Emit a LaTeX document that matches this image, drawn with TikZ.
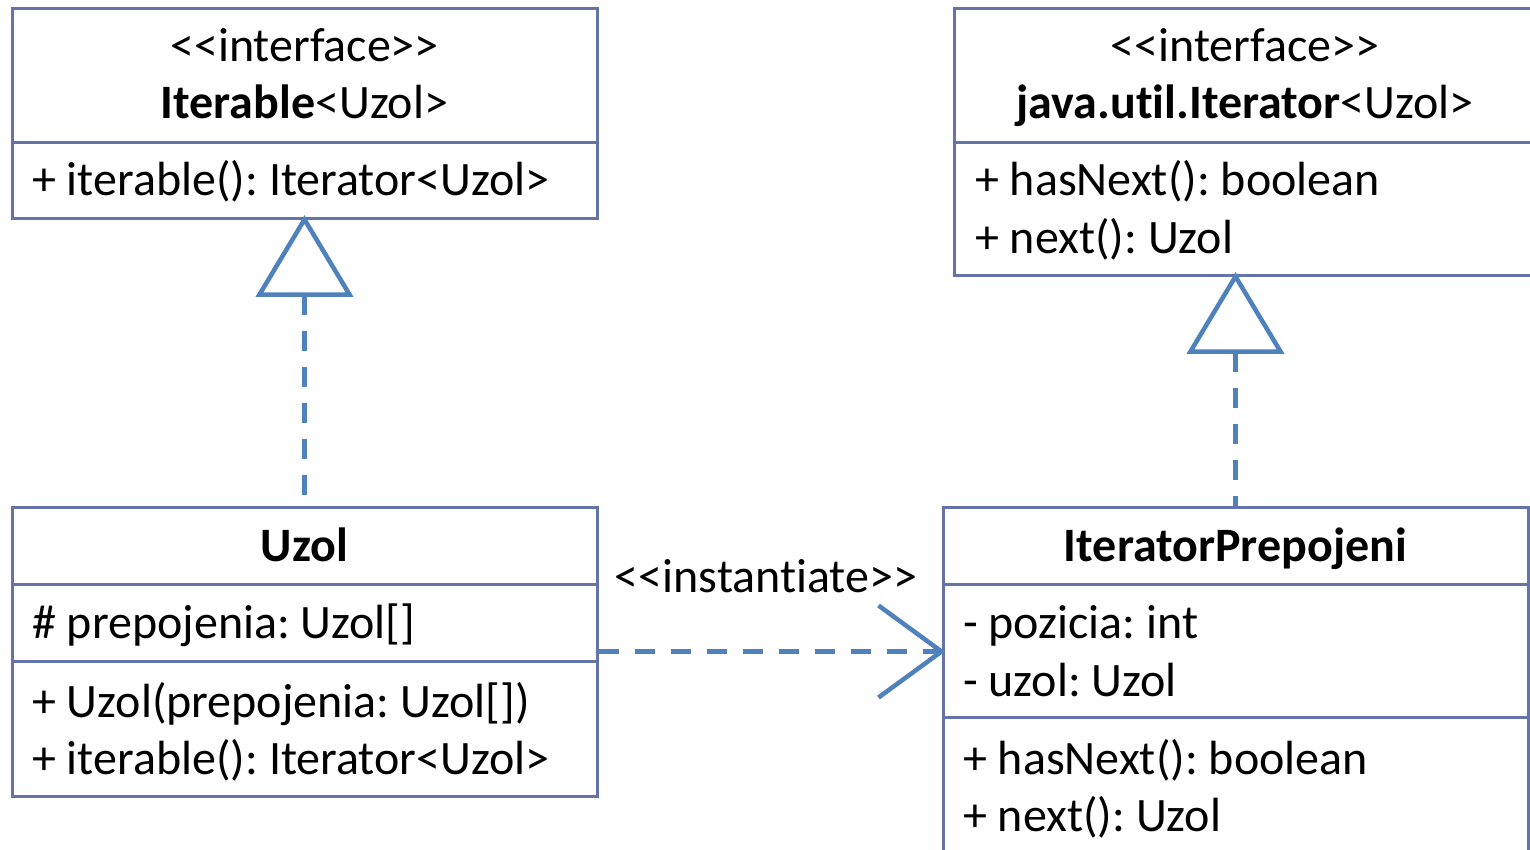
\documentclass[tikz,border=0pt]{standalone}
\usepackage{fontspec}
\setmainfont{Carlito}[Ligatures=NoCommon]
\usetikzlibrary{fit,calc}
\definecolor{boxline}{RGB}{100,116,168}
\definecolor{linkblue}{RGB}{79,129,189}
\frenchspacing
\begin{document}
\begin{tikzpicture}[x=1pt,y=-1pt,
  umlbox/.style={draw=boxline, line width=3pt, inner sep=0pt},
  divider/.style={draw=boxline, line width=3pt},
  txt/.style={inner sep=0pt, anchor=base west, font=\fontsize{48}{58}\selectfont},
  ctxt/.style={inner sep=0pt, anchor=base, font=\fontsize{48}{58}\selectfont},
  link/.style={draw=linkblue, line width=4.5pt},
  dashlink/.style={draw=linkblue, line width=5pt, dash pattern=on 20pt off 16pt},
  realize/.style={link, fill=white, line join=miter},
]
\clip (0,0) rectangle (1530,849);
\fill[white] (0,0) rectangle (1530,849);

% class boxes
\node[umlbox, fit={(12,8) (597,218)}]    (iterable) {};
\node[umlbox, fit={(954,8) (1536,275)}]  (iterator) {};
\node[umlbox, fit={(12,507) (597,796)}]  (uzol) {};
\node[umlbox, fit={(943,507) (1528,880)}] (iterprep) {};

% compartment separators
\draw[divider] (12,142) -- (597,142);
\draw[divider] (954,142) -- (1536,142);
\draw[divider] (12,584) -- (597,584);
\draw[divider] (12,661) -- (597,661);
\draw[divider] (943,584) -- (1528,584);
\draw[divider] (943,717) -- (1528,717);

% Iterable<Uzol>
\node[ctxt] (iterableStereo) at (304.5,61) {<{}<interface>{}>};
\node[ctxt] (iterableName) at (304.5,118) {\textbf{Iterable}<Uzol>};
\node[txt] (iterableOp) at (32,195) {+ iterable(): Iterator<Uzol>};

% java.util.Iterator<Uzol>
\node[ctxt] (iteratorStereo) at (1245,61) {<{}<interface>{}>};
\node[ctxt] (iteratorName) at (1245,118) {\textbf{java.util.Iterator}<Uzol>};
\node[txt] (iteratorOpA) at (975,195) {+ hasNext(): boolean};
\node[txt] (iteratorOpB) at (975,253) {+ next(): Uzol};

% Uzol
\node[ctxt] (uzolName) at (304.5,561) {\textbf{Uzol}};
\node[txt] (uzolAttr) at (32,638) {\# prepojenia: Uzol[]};
\node[txt] (uzolOpA) at (32,717) {+ Uzol(prepojenia: Uzol[])};
\node[txt] (uzolOpB) at (32,774) {+ iterable(): Iterator<Uzol>};

% IteratorPrepojeni
\node[ctxt] (ipName) at (1235.5,561) {\textbf{IteratorPrepojeni}};
\node[txt] (ipAttrA) at (963,638) {- pozicia: int};
\node[txt] (ipAttrB) at (963,696) {- uzol: Uzol};
\node[txt] (ipOpA) at (963,774) {+ hasNext(): boolean};
\node[txt] (ipOpB) at (963,831) {+ next(): Uzol};

% realization: Uzol -> Iterable
\coordinate (r1base) at ($(iterable.south)+(0,75)$);
\draw[dashlink] (r1base) -- (uzol.north);
\draw[realize] (iterable.south) -- ++(-45,75) -- ++(90,0) -- cycle;

% realization: IteratorPrepojeni -> Iterator
\coordinate (r2tip) at (iterprep.north |- iterator.south);
\coordinate (r2base) at ($(r2tip)+(0,75)$);
\draw[dashlink] (r2base) -- (iterprep.north);
\draw[realize] (r2tip) -- ++(-45,75) -- ++(90,0) -- cycle;

% dependency <<instantiate>>
\coordinate (instTip) at (uzol.east -| iterprep.west);
\draw[dashlink] (uzol.east) -- (instTip);
\draw[link, line join=miter] ($(instTip)+(-63,-46)$) -- (instTip) -- ($(instTip)+(-63,46)$);
\node[ctxt] (instLabel) at (766,592) {<{}<instantiate>{}>};
\end{tikzpicture}
\end{document}
